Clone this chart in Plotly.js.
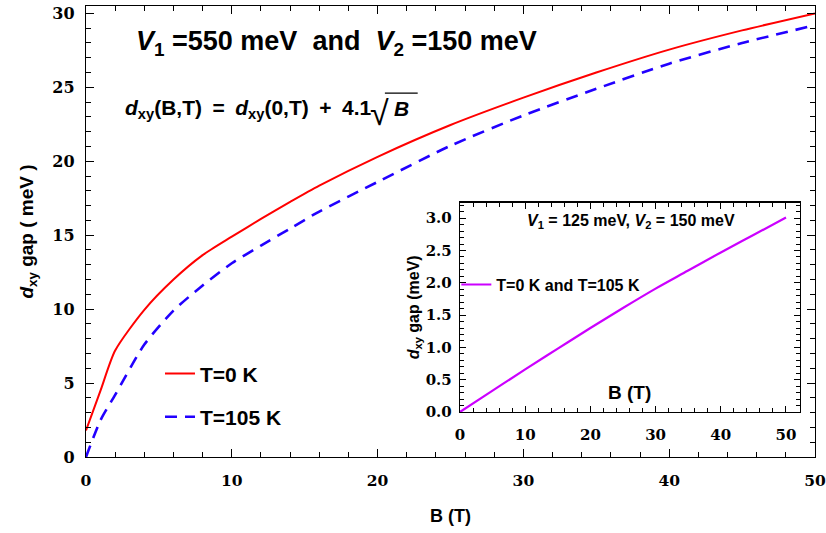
<!DOCTYPE html>
<html>
<head>
<meta charset="utf-8">
<script src="https://cdn.plot.ly/plotly-3.0.1.min.js"></script>
<style>
  html, body { margin: 0; padding: 0; background: #ffffff; }
  #chart { width: 826px; height: 533px; }
</style>
</head>
<body>
<div id="chart"></div>
<script>
// Magnetic field (T) for the main panel
const fieldB = [0, 1, 2, 4, 6, 8, 10, 12, 14, 16, 20, 25, 30, 35, 40, 45, 50];
// d_xy gap (meV), V1 = 550 meV, V2 = 150 meV
const gapT0 = [1.8, 4.5, 7.2, 9.95, 12.0, 13.65, 14.9, 16.1, 17.25, 18.35, 20.3, 22.45, 24.3, 26.0, 27.55, 28.85, 30.0];
const gapT105 = [0, 2.5, 4.2, 7.6, 9.9, 11.6, 13.1, 14.3, 15.45, 16.6, 18.6, 21.05, 23.1, 24.9, 26.6, 28.0, 29.2];

// Inset: V1 = 125 meV, V2 = 150 meV (both temperatures coincide)
const insetB = [0, 5, 10, 15, 20, 25, 30, 35, 40, 45, 50];
const insetGap = [0, 0.33, 0.66, 0.98, 1.30, 1.61, 1.91, 2.19, 2.47, 2.74, 3.01];

const xTicks = [0, 10, 20, 30, 40, 50];
const yTicks = [0, 5, 10, 15, 20, 25, 30];
const insetYTicks = [0, 0.5, 1.0, 1.5, 2.0, 2.5, 3.0];

const SERIF = 'DejaVu Serif';
const SANS = 'Liberation Sans, Arial, sans-serif';

const traces = [
  {
    x: fieldB, y: gapT0, type: 'scatter', mode: 'lines',
    name: 'T=0 K', legendgroup: 'a',
    line: { color: '#ff0000', width: 2, shape: 'spline', smoothing: 0.7 },
    xaxis: 'x', yaxis: 'y'
  },
  {
    x: fieldB, y: gapT105, type: 'scatter', mode: 'lines',
    name: 'T=105 K', legendgroup: 'b',
    line: { color: '#2200ff', width: 2.6, dash: '12px,8px', shape: 'spline', smoothing: 0.7 },
    xaxis: 'x', yaxis: 'y'
  },
  {
    x: insetB, y: insetGap, type: 'scatter', mode: 'lines',
    name: 'T=0 K and T=105 K', legend: 'legend2',
    line: { color: '#cc00ff', width: 2.2, shape: 'spline', smoothing: 1 },
    xaxis: 'x2', yaxis: 'y2'
  }
];

function axisStyle(extra) {
  return Object.assign({
    showline: true, linecolor: '#000', linewidth: 1.2,
    mirror: 'ticks', ticks: 'inside', tickcolor: '#000',
    showgrid: false, zeroline: false, fixedrange: true
  }, extra);
}

const layout = {
  width: 826, height: 533,
  margin: { l: 86, r: 11, t: 6, b: 76 },
  paper_bgcolor: '#ffffff', plot_bgcolor: '#ffffff',
  showlegend: true,
  xaxis: axisStyle({
    range: [0, 50], tickvals: xTicks, ticklen: 8, tickwidth: 1,
    minor: { dtick: 2, ticks: 'inside', ticklen: 5, tickcolor: '#000' },
    tickfont: { family: SERIF, size: 15.5, color: '#000', weight: 'bold' },
    ticklabelstandoff: 9
  }),
  yaxis: axisStyle({
    range: [0, 30.5], tickvals: yTicks, ticklen: 8, tickwidth: 1,
    minor: { dtick: 1, ticks: 'inside', ticklen: 5, tickcolor: '#000' },
    tickfont: { family: SERIF, size: 16, color: '#000', weight: 'bold' },
    ticklabelstandoff: 7,
    title: { text: '<i>d</i><sub>xy</sub> gap ( meV )', standoff: 13,
             font: { family: SANS, size: 19, color: '#000', weight: 'bold' } }
  }),
  xaxis2: axisStyle({
    domain: [0.513, 0.979], anchor: 'y2',
    range: [0, 52.1], tickvals: xTicks, ticklen: 6, tickwidth: 1,
    minor: { dtick: 2, ticks: 'inside', ticklen: 4, tickcolor: '#000' },
    tickfont: { family: SERIF, size: 15, color: '#000', weight: 'bold' },
    ticklabelstandoff: 9
  }),
  yaxis2: axisStyle({
    domain: [0.0998, 0.5639], anchor: 'x2',
    range: [0, 3.24], tickvals: insetYTicks, tickformat: '.1f', ticklen: 6, tickwidth: 1,
    minor: { dtick: 0.1, ticks: 'inside', ticklen: 4, tickcolor: '#000' },
    tickfont: { family: SERIF, size: 15, color: '#000', weight: 'bold' },
    ticklabelstandoff: 4,
    title: { text: '<i>d</i><sub>xy</sub> gap (meV)', standoff: 2,
             font: { family: SANS, size: 16, color: '#000', weight: 'bold' } }
  }),
  legend: {
    x: 0.1015, y: 0.23, xanchor: 'left', yanchor: 'top',
    bgcolor: 'rgba(0,0,0,0)', borderwidth: 0,
    tracegroupgap: 13,
    font: { family: SANS, size: 21, color: '#000', weight: 'bold' }
  },
  legend2: {
    x: 0.508, y: 0.42, xanchor: 'left', yanchor: 'top',
    bgcolor: 'rgba(0,0,0,0)', borderwidth: 0,
    font: { family: SANS, size: 16, color: '#000', weight: 'bold' }
  },
  shapes: [
    // vinculum of the square root in the formula
    { type: 'line', xref: 'paper', yref: 'paper', x0: 0.410, x1: 0.455, y0: 0.807, y1: 0.807,
      line: { color: '#000', width: 1.3 } }
  ],
  annotations: [
    {
      xref: 'paper', yref: 'paper', x: 0.5, y: -0.131, xanchor: 'center', yanchor: 'middle',
      showarrow: false, text: 'B (T)',
      font: { family: SANS, size: 18, color: '#000', weight: 'bold' }
    },
    {
      xref: 'paper', yref: 'paper', x: 0.344, y: 0.918, xanchor: 'center', yanchor: 'middle',
      showarrow: false,
      text: '<i>V</i><sub>1</sub> =550 meV\u00a0\u00a0and\u00a0\u00a0<i>V</i><sub>2</sub> =150 meV',
      font: { family: SANS, size: 27, color: '#000', weight: 'bold' }
    },
    {
      xref: 'paper', yref: 'paper', x: 0.0508, y: 0.772, xanchor: 'left', yanchor: 'middle',
      showarrow: false,
      text: '<i>d</i><sub>xy</sub>(B,T)\u2002=\u2002<i>d</i><sub>xy</sub>(0,T)\u2002+\u20024.1',
      font: { family: SANS, size: 21, color: '#000', weight: 'bold' }
    },
    {
      xref: 'paper', yref: 'paper', x: 0.403, y: 0.762, xanchor: 'center', yanchor: 'middle',
      showarrow: false, text: '\u221a',
      font: { family: SANS, size: 34, color: '#000', weight: 'normal' }
    },
    {
      xref: 'paper', yref: 'paper', x: 0.433, y: 0.772, xanchor: 'center', yanchor: 'middle',
      showarrow: false, text: '<i>B</i>',
      font: { family: SANS, size: 21, color: '#000', weight: 'bold' }
    },
    {
      xref: 'paper', yref: 'paper', x: 0.747, y: 0.523, xanchor: 'center', yanchor: 'middle',
      showarrow: false,
      text: '<i>V</i><sub>1</sub> = 125 meV, <i>V</i><sub>2</sub> = 150 meV',
      font: { family: SANS, size: 16, color: '#000', weight: 'bold' }
    },
    {
      xref: 'paper', yref: 'paper', x: 0.746, y: 0.142, xanchor: 'center', yanchor: 'middle',
      showarrow: false,
      text: 'B (T)',
      font: { family: SANS, size: 19, color: '#000', weight: 'bold' }
    }
  ]
};

Plotly.newPlot('chart', traces, layout, { staticPlot: true, displayModeBar: false });
</script>
</body>
</html>
